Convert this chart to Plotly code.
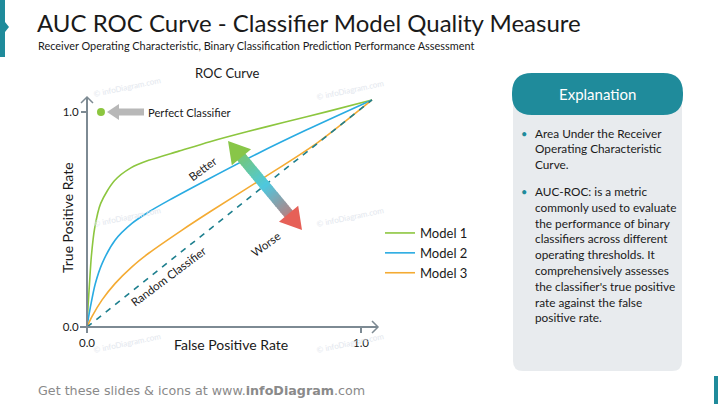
import numpy as np
import plotly.graph_objects as go

# ROC curve points (false positive rate, true positive rate)
fpr_model1 = [0, 0.004, 0.009, 0.016, 0.028, 0.05, 0.1, 0.16, 0.225, 0.335, 0.449, 0.583, 0.72, 0.88, 1.04]
tpr_model1 = [0, 0.1, 0.2, 0.33, 0.46, 0.575, 0.68, 0.74, 0.775, 0.818, 0.862, 0.908, 0.952, 1.003, 1.056]
fpr_model2 = [0, 0.005, 0.012, 0.03, 0.055, 0.103, 0.164, 0.225, 0.3, 0.449, 0.62, 0.8, 1.04]
tpr_model2 = [0, 0.04, 0.09, 0.2, 0.295, 0.405, 0.482, 0.535, 0.59, 0.692, 0.805, 0.916, 1.056]
fpr_model3 = [0, 0.018, 0.055, 0.103, 0.164, 0.225, 0.347, 0.449, 0.64, 0.838, 1.04]
tpr_model3 = [0, 0.048, 0.126, 0.203, 0.28, 0.343, 0.451, 0.536, 0.69, 0.854, 1.056]
fpr_random = [0, 1.04]
tpr_random = [0, 1.056]
perfect_point = [0.051, 1.0]

model_names = ["Model 1", "Model 2", "Model 3"]
model_colors = ["#8cc63f", "#29abe2", "#f4ab33"]

tick_vals = [0, 1]
tick_text = ["0.0", "1.0"]

bullets = [
    ["Area Under the Receiver", "Operating Characteristic", "Curve."],
    ["AUC-ROC: is a metric", "commonly used to evaluate", "the performance of binary",
     "classifiers across different", "operating thresholds. It",
     "comprehensively assesses", "the classifier's true positive",
     "rate against the false", "positive rate."],
]

W, H = 718, 404
TEAL = "#1f8b9b"
AXIS = "#7d8a93"
INK = "#1a1a1a"
FONT = "Lato"


def px(x):
    return x / W


def py(y):
    return 1 - y / H


def rounded_rect(x0, y0, x1, y1, r):
    # path in paper coords, corners given in pixels
    return (f"M {px(x0 + r)} {py(y0)} L {px(x1 - r)} {py(y0)} "
            f"Q {px(x1)} {py(y0)} {px(x1)} {py(y0 + r)} L {px(x1)} {py(y1 - r)} "
            f"Q {px(x1)} {py(y1)} {px(x1 - r)} {py(y1)} L {px(x0 + r)} {py(y1)} "
            f"Q {px(x0)} {py(y1)} {px(x0)} {py(y1 - r)} L {px(x0)} {py(y0 + r)} "
            f"Q {px(x0)} {py(y0)} {px(x0 + r)} {py(y0)} Z")


def poly(points):
    return "M " + " L ".join(f"{px(a)} {py(b)}" for a, b in points) + " Z"


def label(text, x, y, size, color=INK, xanchor="center", angle=0, family=FONT):
    return dict(text=text, x=px(x), y=py(y), xref="paper", yref="paper", showarrow=False,
                xanchor=xanchor, yanchor="middle", textangle=angle,
                font=dict(family=family, size=size, color=color))


fig = go.Figure()

# curves
fpr_list = [fpr_model1, fpr_model2, fpr_model3]
tpr_list = [tpr_model1, tpr_model2, tpr_model3]
for name, col, xs, ys in zip(model_names, model_colors, fpr_list, tpr_list):
    fig.add_trace(go.Scatter(x=xs, y=ys, mode="lines", name=name, legendgroup=name,
                             line=dict(color=col, width=1.6, shape="spline", smoothing=0.8)))

fig.add_trace(go.Scatter(x=fpr_random, y=tpr_random, mode="lines", showlegend=False,
                         line=dict(color="#1d7f8e", width=1.6, dash="6px,6px")))
fig.add_trace(go.Scatter(x=[perfect_point[0]], y=[perfect_point[1]], mode="markers", showlegend=False,
                         marker=dict(color="#8cc63f", size=8)))

shapes = []
annotations = []

# axes with open arrow heads
x0, xe, yb, yt = 87, 378, 327, 97
shapes.append(dict(type="line", xref="paper", yref="paper", x0=px(80), x1=px(xe), y0=py(yb), y1=py(yb),
                   line=dict(color=AXIS, width=2)))
shapes.append(dict(type="line", xref="paper", yref="paper", x0=px(x0), x1=px(x0), y0=py(332), y1=py(yt),
                   line=dict(color=AXIS, width=2)))
shapes.append(dict(type="path", xref="paper", yref="paper",
                   path=f"M {px(xe-6)} {py(yb-6)} L {px(xe)} {py(yb)} L {px(xe-6)} {py(yb+6)}",
                   line=dict(color=AXIS, width=1.5)))
shapes.append(dict(type="path", xref="paper", yref="paper",
                   path=f"M {px(x0-6)} {py(yt+6)} L {px(x0)} {py(yt)} L {px(x0+6)} {py(yt+6)}",
                   line=dict(color=AXIS, width=1.5)))

# gray arrow pointing at the perfect classifier
shapes.append(dict(type="path", xref="paper", yref="paper",
                   path=poly([(107, 112), (119, 104), (119, 108.5), (144, 108.5), (144, 115.5),
                              (119, 115.5), (119, 120)]),
                   fillcolor="#b8b8b8", line=dict(width=0)))

# gradient double arrow (better / worse)
ax0, ay0, ax1, ay1 = 228, 141, 302, 230
d = np.array([ax1 - ax0, ay1 - ay0], dtype=float)
L = np.hypot(*d)
u = d / L
nrm = np.array([-u[1], u[0]])
head = 21
stops = [(0.0, (140, 198, 63)), (0.5, (77, 201, 224)), (1.0, (240, 90, 79))]


def grad(t):
    for (t0, c0), (t1, c1) in zip(stops[:-1], stops[1:]):
        if t <= t1:
            f = (t - t0) / (t1 - t0)
            return "rgb(%d,%d,%d)" % tuple(int(a + (b - a) * f) for a, b in zip(c0, c1))
    return "rgb(%d,%d,%d)" % stops[-1][1]


n_seg = 30
p_start = np.array([ax0, ay0]) + u * (head - 1)
p_end = np.array([ax1, ay1]) - u * (head - 1)
for i in range(n_seg):
    a = p_start + (p_end - p_start) * i / n_seg
    b = p_start + (p_end - p_start) * min(i + 1.3, n_seg) / n_seg
    t = (head + (L - 2 * head) * (i + 0.5) / n_seg) / L
    shapes.append(dict(type="line", xref="paper", yref="paper", x0=px(a[0]), y0=py(a[1]),
                       x1=px(b[0]), y1=py(b[1]), line=dict(color=grad(t), width=10.5)))
for tip, direction, col in [((ax0, ay0), u, grad(0.03)), ((ax1, ay1), -u, grad(0.97))]:
    tip = np.array(tip, dtype=float)
    base = tip + direction * head
    p1 = base + nrm * 12.5
    p2 = base - nrm * 12.5
    shapes.append(dict(type="path", xref="paper", yref="paper",
                       path=poly([tuple(tip), tuple(p1), tuple(p2)]),
                       fillcolor=col, line=dict(width=0)))

# side decorations
shapes.append(dict(type="path", xref="paper", yref="paper",
                   path=poly([(0, 0), (5, 0), (5, 22), (9, 27), (5, 32), (5, 57), (0, 57)]),
                   fillcolor=TEAL, line=dict(width=0)))
shapes.append(dict(type="rect", xref="paper", yref="paper", x0=px(714), x1=1, y0=0, y1=py(376),
                   fillcolor=TEAL, line=dict(width=0)))

# explanation panel
shapes.append(dict(type="path", xref="paper", yref="paper", path=rounded_rect(513, 87, 682, 371, 10),
                   fillcolor="#e8ebee", line=dict(width=0), layer="below"))
shapes.append(dict(type="path", xref="paper", yref="paper", path=rounded_rect(512, 73, 683, 115, 20),
                   fillcolor=TEAL, line=dict(width=0)))
annotations.append(label("Explanation", 597, 94, 15, "white"))

line_y = 133
for para in bullets:
    annotations.append(label("•", 524, line_y, 11, TEAL))
    for ln in para:
        annotations.append(label(ln, 533, line_y, 11.8, xanchor="left"))
        line_y += 15.8
    line_y += 11

# titles
annotations.append(label("AUC ROC Curve - Classifier Model Quality Measure", 35, 22, 24, xanchor="left"))
annotations.append(label("Receiver Operating Characteristic, Binary Classification Prediction Performance Assessment",
                         36, 46, 10.9, xanchor="left"))
annotations.append(label("ROC Curve", 227, 73, 13))
annotations.append(label("True Positive Rate", 67, 218, 14, angle=-90))
annotations.append(label("False Positive Rate", 231, 344, 14))

# chart labels
annotations.append(label("Perfect Classifier", 146, 112, 11.2, xanchor="left"))
for txt, cx, cy in [("Better", 203, 169), ("Random Classifier", 168, 276), ("Worse", 265, 244)]:
    annotations.append(label(txt, cx, cy, 11.5, angle=-37))

# watermarks
for wx, wy in [(127, 87), (350, 90), (127, 217), (350, 217), (127, 343), (350, 343)]:
    annotations.append(label("© infoDiagram.com", wx, wy, 8, "#e3e7ee", angle=-12))

# footer
annotations.append(label("Get these slides & icons at www.<b>infoDiagram</b>.com", 36, 390, 12.7,
                         "#8a8a8a", xanchor="left", family="DejaVu Sans"))

fig.update_layout(
    width=W, height=H,
    margin=dict(l=0, r=0, t=0, b=0, pad=0),
    paper_bgcolor="white", plot_bgcolor="white",
    shapes=shapes, annotations=annotations,
    xaxis=dict(domain=[px(x0), px(xe)], range=[0, (xe - x0) / 274], tickvals=tick_vals, ticktext=tick_text,
               showgrid=False, zeroline=False, showline=False, ticks="outside", ticklen=5, tickwidth=2,
               tickcolor=AXIS, automargin=False, fixedrange=True,
               tickfont=dict(family=FONT, size=11.5, color=INK)),
    yaxis=dict(domain=[py(yb), py(yt)], range=[0, (yb - yt) / 215], tickvals=tick_vals, ticktext=tick_text,
               showgrid=False, zeroline=False, showline=False, ticks="outside", ticklen=5, tickwidth=2,
               tickcolor=AXIS, automargin=False, fixedrange=True,
               tickfont=dict(family=FONT, size=11.5, color=INK)),
    legend=dict(x=px(380), y=py(218), xanchor="left", yanchor="top", tracegroupgap=0,
                font=dict(family=FONT, size=13, color=INK), bgcolor="rgba(0,0,0,0)"),
    showlegend=True,
)

# page body has a default 8px margin; drop it so the slide sits at the window corner
fig.write_html("out.html", config={"displayModeBar": False},
               post_script="document.body.style.margin='0';document.body.style.overflow='hidden';")
